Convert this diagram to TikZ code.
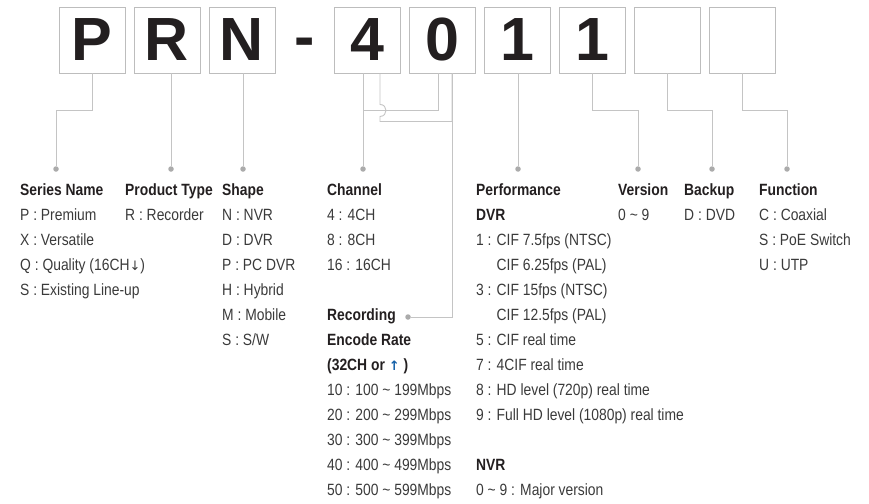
\documentclass[tikz,border=0pt]{standalone}
\usepackage{fontspec}
\setmainfont{Liberation Sans}
\newfontfamily\condfont{Liberation Sans}[FakeStretch=0.85]
\newfontfamily\symfont{DejaVu Sans}
\definecolor{linegray}{HTML}{C4C4C4}
\definecolor{boxgray}{HTML}{BDBDBD}
\definecolor{dotgray}{HTML}{ABABAB}
\definecolor{headink}{HTML}{231F20}
\definecolor{bodyink}{HTML}{3A3A3A}
\definecolor{arrowblue}{HTML}{1460A8}
\newcommand{\hd}[1]{\textcolor{headink}{\bfseries #1}}
\tikzset{
digit/.style={
	rectangle,
	minimum width=66pt,
	minimum height=66pt,
	inner sep=0pt,
	draw=boxgray,
	line width=0.9pt,
	text=headink,
	font=\fontsize{61}{61}\selectfont\bfseries
},
dashsign/.style={
	inner sep=0pt,
	anchor=base,
	text=headink,
	font=\fontsize{61}{61}\selectfont\bfseries
},
dot/.style={
	circle,
	fill=dotgray,
	inner sep=0pt,
	minimum size=5.5pt
},
legend/.style={
	anchor=north west,
	align=left,
	inner sep=0pt,
	text=bodyink,
	font=\fontsize{16.3}{25}\selectfont\condfont,
	execute at begin node={\strut}
},
conn/.style={
	draw=linegray,
	line width=0.9pt
}
}
\begin{document}
\begin{tikzpicture}[x=1pt, y=-1pt]
\useasboundingbox (0,0) rectangle (869,503);
% ===== Code boxes (top row) =====
\node (cP)   [digit]    at (92, 40)  {P};
\node (cR)   [digit]    at (167, 40) {R};
\node (cN)   [digit]    at (242, 40) {N};
\node (dash) [dashsign] at (305, 57) {-};
\node (c4)   [digit]    at (367, 40) {4};
\node (c0)   [digit]    at (442, 40) {0};
\node (c1)   [digit]    at (517, 40) {1};
\node (cV)   [digit]    at (592, 40) {1};
\node (cB)   [digit]    at (667, 40) {};
\node (cF)   [digit]    at (742, 40) {};
% ===== Dots above the legends =====
\node (pSeries)    [dot] at (56, 169)  {};
\node (pProduct)   [dot] at (171, 169) {};
\node (pShape)     [dot] at (243, 169) {};
\node (pChannel)   [dot] at (363, 169) {};
\node (pRecording) [dot] at (408, 317) {};
\node (pPerf)      [dot] at (518, 169) {};
\node (pVersion)   [dot] at (638, 169) {};
\node (pBackup)    [dot] at (712, 169) {};
\node (pFunction)  [dot] at (787, 169) {};
% ===== Legends =====
\node (series) [legend] at (20, 183.5)  {\hd{Series Name}\\P : Premium\\X : Versatile\\Q : Quality (16CH{\symfont\fontsize{13}{25}\selectfont ↓})\\S : Existing Line-up};
\node (ptype)  [legend] at (125, 183.5) {\hd{Product Type}\\R : Recorder};
\node (shape)  [legend] at (222, 183.5) {\hd{Shape}\\N : NVR\\D : DVR\\P : PC DVR\\H : Hybrid\\M : Mobile\\S : S/W};
\node (chan)   [legend] at (327, 183.5) {\hd{Channel}\\4 : 4CH\\8 : 8CH\\16 : 16CH};
\node (rec)    [legend] at (327, 308.5) {\hd{Recording}\\\hd{Encode Rate}\\\hd{(32CH or {\color{arrowblue}\symfont\fontsize{13}{25}\selectfont ↑} )}\\10 : 100 \textasciitilde{} 199Mbps\\20 : 200 \textasciitilde{} 299Mbps\\30 : 300 \textasciitilde{} 399Mbps\\40 : 400 \textasciitilde{} 499Mbps\\50 : 500 \textasciitilde{} 599Mbps};
\node (perf)   [legend] at (476, 183.5) {\hd{Performance}\\\hd{DVR}\\1 : CIF 7.5fps (NTSC)\\\phantom{1 : }CIF 6.25fps (PAL)\\3 : CIF 15fps (NTSC)\\\phantom{3 : }CIF 12.5fps (PAL)\\5 : CIF real time\\7 : 4CIF real time\\8 : HD level (720p) real time\\9 : Full HD level (1080p) real time\\[25pt]\hd{NVR}\\0 \textasciitilde{} 9 : Major version};
\node (ver)    [legend] at (618, 183.5) {\hd{Version}\\0 \textasciitilde{} 9};
\node (backup) [legend] at (684, 183.5) {\hd{Backup}\\D : DVD};
\node (func)   [legend] at (759, 183.5) {\hd{Function}\\C : Coaxial\\S : PoE Switch\\U : UTP};

% ===== Connectors =====
\draw [conn] (cP.south) -- ++(0,37) -| (pSeries);
\draw [conn] (pProduct |- cR.south) -- (pProduct);
\draw [conn] (pShape |- cN.south) -- (pShape);
% channel: first digit and second digit joined
\draw [conn] (pChannel |- c4.south) -- (pChannel);
\draw [conn] ([xshift=-4pt]c0.south) -- ++(0,37) -| (pChannel);
% recording: jumps over the channel join
\draw [conn] ([xshift=13pt]c4.south) -- ++(0,31) .. controls +(8,0) and +(8,0) .. ++(0,12) -- ++(0,5) -| ([xshift=10pt]c0.south);
\draw [conn] ([xshift=10pt]c0.south) |- (pRecording);
\draw [conn] (pPerf |- c1.south) -- (pPerf);
\draw [conn] (cV.south) -- ++(0,37) -| (pVersion);
\draw [conn] (cB.south) -- ++(0,37) -| (pBackup);
\draw [conn] (cF.south) -- ++(0,37) -| (pFunction);

\end{tikzpicture}
\end{document}
